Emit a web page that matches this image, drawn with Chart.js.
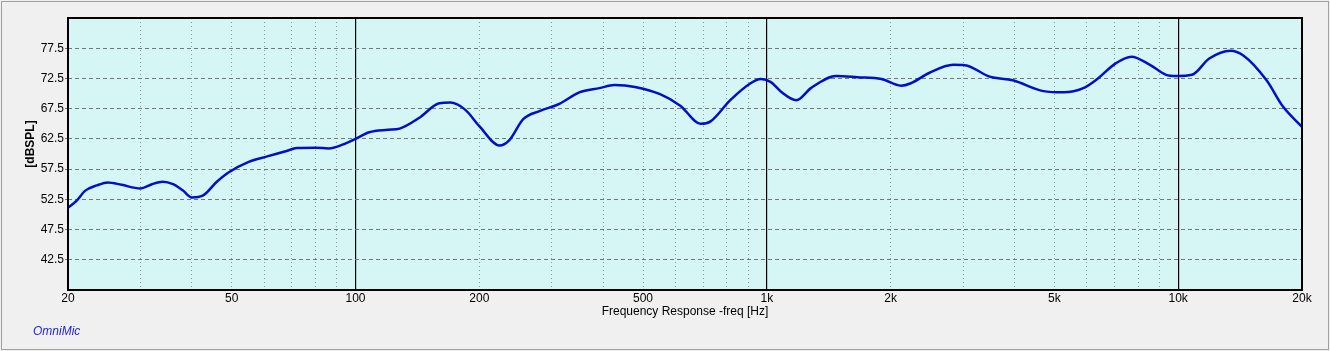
<!DOCTYPE html>
<html>
<head>
<meta charset="utf-8">
<script src="https://cdn.jsdelivr.net/npm/chart.js@4/dist/chart.umd.min.js"></script>
<style>
    html, body { margin: 0; padding: 0; background: #f0f0f0; }
    #wrap { position: relative; width: 1330px; height: 351px; }
</style>
</head>
<body>
<div id="wrap"><canvas id="fr" width="1330" height="351"></canvas></div>
<script>
const freqHz = [20, 21, 22, 23.5, 25, 27, 30, 32, 34, 36, 38, 40, 42.5, 46, 49, 55, 61, 68, 72, 80, 86, 95,
    100, 108, 120, 128, 143, 160, 170, 185, 200, 224, 236, 256, 280, 313, 350, 392, 426, 478, 550, 616, 690, 730, 815, 913, 967,
    1023, 1083, 1180, 1280, 1475, 1660, 1900, 2120, 2240, 2480, 2840, 3030, 3480, 3960, 4700, 5270, 5880, 6300, 7050, 7700, 8520, 9340, 9900,
    10800, 11900, 13400, 14400, 16400, 18000, 20000];
const splDb = [51.1, 52.3, 53.9, 54.8, 55.3, 54.9, 54.3, 55.0, 55.4, 55.0, 54.0, 52.8, 53.1, 55.4, 56.9, 58.7, 59.6, 60.5, 61.0, 61.05, 60.9, 61.8,
    62.5, 63.6, 64.0, 64.2, 66.0, 68.4, 68.5, 67.3, 64.6, 61.4, 62.2, 65.8, 67.1, 68.3, 70.2, 70.9, 71.4, 71.1, 69.9, 68.0, 65.0, 65.4, 68.9, 71.7, 72.4,
    71.9, 70.3, 68.9, 70.9, 72.9, 72.7, 72.4, 71.3, 71.7, 73.4, 74.75, 74.7, 72.8, 72.2, 70.4, 70.2, 70.9, 72.2, 75.0, 76.1, 74.8, 73.1, 72.9,
    73.1, 75.8, 77.1, 76.3, 72.2, 67.8, 64.5];

// Axis ticks
const freqGrid = [20, 30, 40, 50, 60, 70, 80, 90, 100, 200, 300, 400, 500, 600, 700, 800, 900,
    1000, 2000, 3000, 4000, 5000, 6000, 7000, 8000, 9000, 10000, 20000];
const freqLabels = { 20: '20', 50: '50', 100: '100', 200: '200', 500: '500', 1000: '1k', 2000: '2k', 5000: '5k', 10000: '10k', 20000: '20k' };
const decades = [100, 1000, 10000];
const dbTicks = [42.5, 47.5, 52.5, 57.5, 62.5, 67.5, 72.5, 77.5];

const FONT = '"Liberation Sans", Arial, sans-serif';

// background, outer frame, plot border and the free-standing labels
const frame = {
    id: 'frame',
    beforeDraw(chart) {
        const { ctx, chartArea: a } = chart;
        ctx.save();
        ctx.fillStyle = '#f0f0f0';
        ctx.fillRect(0, 0, chart.width, chart.height);
        ctx.strokeStyle = '#a0a0a0';
        ctx.lineWidth = 1;
        ctx.strokeRect(1.5, 1.5, chart.width - 3, chart.height - 3);
        ctx.fillStyle = '#d6f5f5';
        ctx.fillRect(a.left, a.top, a.right - a.left, a.bottom - a.top);
        ctx.restore();
    },
    afterDraw(chart) {
        const { ctx, chartArea: a } = chart;
        ctx.save();
        ctx.strokeStyle = '#000';
        ctx.lineWidth = 2;
        ctx.strokeRect(a.left, a.top, a.right - a.left, a.bottom - a.top);

        ctx.fillStyle = '#000';
        ctx.textAlign = 'center';
        ctx.textBaseline = 'middle';
        ctx.font = '12px ' + FONT;
        ctx.fillText('Frequency Response -freq [Hz]', (a.left + a.right) / 2, 312);

        ctx.save();
        ctx.translate(31, 144);
        ctx.rotate(-Math.PI / 2);
        ctx.font = 'bold 12px ' + FONT;
        ctx.fillText('[dBSPL]', 0, 0);
        ctx.restore();

        ctx.fillStyle = '#2424d8';
        ctx.textAlign = 'left';
        ctx.font = 'italic 12px ' + FONT;
        ctx.fillText('OmniMic', 33, 332);
        ctx.restore();
    }
};

new Chart(document.getElementById('fr'), {
    type: 'line',
    data: {
        labels: freqHz,
        datasets: [{
            data: freqHz.map((f, i) => ({ x: f, y: splDb[i] })),
            borderColor: '#0010c8',
            borderWidth: 2.5,
            pointRadius: 0,
            cubicInterpolationMode: 'monotone',
            fill: false
        }]
    },
    options: {
        responsive: false,
        animation: false,
        layout: { padding: { top: 18, right: 28, left: 0, bottom: 0 } },
        plugins: { legend: { display: false }, tooltip: { enabled: false } },
        scales: {
            x: {
                type: 'logarithmic',
                min: 20,
                max: 20000,
                afterBuildTicks: (s) => { s.ticks = freqGrid.map(v => ({ value: v })); },
                afterFit: (s) => { s.height = 61; },
                ticks: {
                    autoSkip: false,
                    maxRotation: 0,
                    padding: 1,
                    color: '#000',
                    font: { family: FONT, size: 12 },
                    callback: (v) => freqLabels[v] || ''
                },
                grid: {
                    drawTicks: false,
                    color: (c) => decades.includes(c.tick && c.tick.value) ? '#000' : '#8a9a9a',
                    lineWidth: (c) => decades.includes(c.tick && c.tick.value) ? 1.2 : 1
                },
                border: {
                    display: false,
                    dash: (c) => decades.includes(c.tick && c.tick.value) ? [] : [1, 3]
                }
            },
            y: {
                min: 37.5,
                max: 82.5,
                afterBuildTicks: (s) => { s.ticks = dbTicks.map(v => ({ value: v })); },
                afterFit: (s) => { s.width = 68; },
                ticks: {
                    padding: 1,
                    color: '#000',
                    font: { family: FONT, size: 12 },
                    callback: (v) => v.toFixed(1)
                },
                grid: {
                    color: '#707878',
                    tickLength: 3,
                    lineWidth: 1
                },
                border: { display: false, dash: [4, 3] }
            }
        }
    },
    plugins: [frame]
});
</script>
</body>
</html>
